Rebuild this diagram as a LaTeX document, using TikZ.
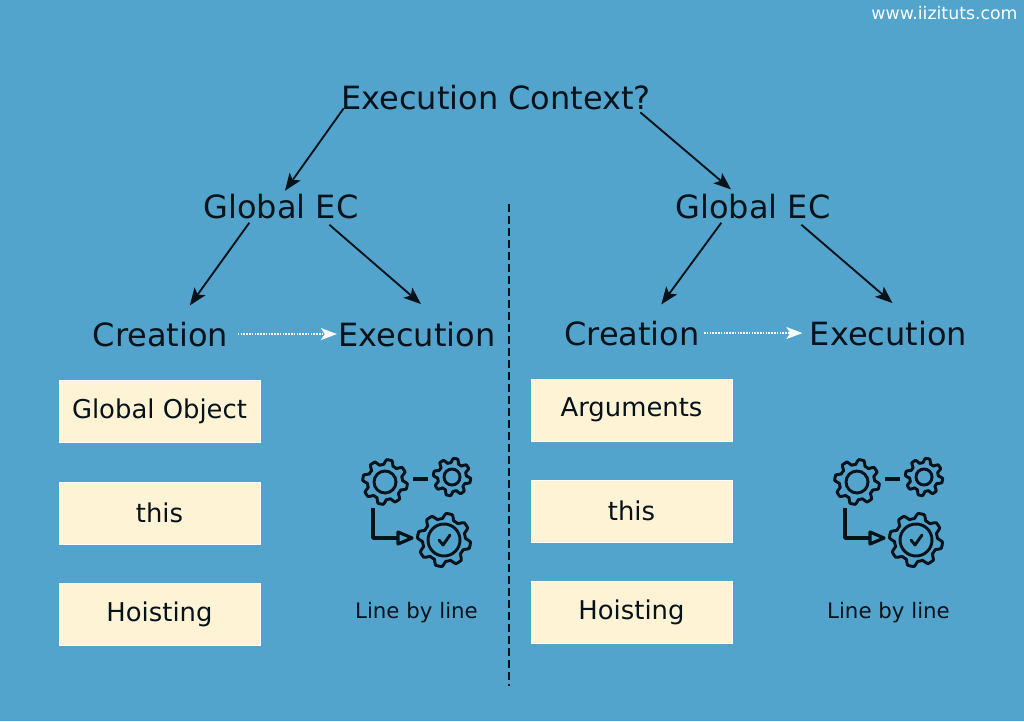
\documentclass[tikz,border=0pt]{standalone}
\usepackage{fontspec}
\setmainfont{DejaVu Sans}
\usetikzlibrary{arrows.meta}
\definecolor{bgblue}{HTML}{53A4CC}
\definecolor{boxcream}{HTML}{FFF3D6}
\definecolor{inkblack}{HTML}{06121A}
\tikzset{
  heading/.style={anchor=base,inner sep=0pt,text=inkblack,font=\fontsize{24}{28}\selectfont},
  itembox/.style={fill=boxcream,draw=white,line width=0.4pt,minimum width=150.5pt,minimum height=46.5pt,inner sep=0pt,text=inkblack,font=\fontsize{19.4}{22}\selectfont},
  small/.style={anchor=base,inner sep=0pt,text=inkblack,font=\fontsize{16}{19}\selectfont},
  link/.style={-{Stealth[length=13pt,width=10pt,inset=3pt]},line width=1.4pt,color=inkblack},
  flow/.style={-{Stealth[length=12pt,width=9pt,inset=3pt]},white,line width=1.4pt,dash pattern=on 1.2pt off 0.9pt},
  pics/gearwheel/.style n args={3}{code={
    \draw[line width=2.2pt,inkblack,line join=round,smooth,samples=161,domain=0:360] plot (\x:{#1+#2*max(-1,min(1,1.8*sin(8*\x)))}) -- cycle;
    \draw[line width=2.2pt,inkblack] (0,0) circle (#3);
  }},
  pics/workflow/.style={code={
    \pic at (385,482) {gearwheel={20}{2.4}{11}};
    \pic at (452,477) {gearwheel={16.5}{2.2}{8}};
    \pic at (444,540) {gearwheel={24}{2.6}{16}};
    \draw[line width=2.4pt,inkblack] (413,479) -- (428,479);
    \draw[line width=2.8pt,inkblack,line join=round] (373,508) -- (373,538) -- (398,538);
    \draw[line width=2.4pt,inkblack,line join=round] (398,532) -- (412,538) -- (398,544) -- cycle;
    \draw[line width=2.2pt,inkblack,line cap=round,line join=round] (439,540) -- (443,545) -- (450,535);
  }}
}
\begin{document}
\begin{tikzpicture}[line cap=butt,x=0.75pt,y=-0.75pt]
\fill[bgblue] (0,0) rectangle (1024,721);
\node[anchor=base,inner sep=0pt,white,font=\fontsize{13}{15}\selectfont] (site) at (944.5,19) {www.iizituts.com};
\node[heading] (ctx) at (496,109) {Execution Context?};
% left side
\node[heading] (globalA) at (281,218) {Global EC};
\node[heading] (createA) at (160.5,346) {Creation};
\node[heading] (execA) at (417,346) {Execution};
\node[itembox] (objA) at (159.5,411) {Global Object};
\node[itembox] (thisA) at (159.5,513) {this};
\node[itembox] (hoistA) at (159.5,614) {Hoisting};
\pic at (0,0) {workflow};
\node[small] (lineA) at (416.5,618) {Line by line};
% right side
\node[heading] (globalB) at (753,218) {Global EC};
\node[heading] (createB) at (632,345) {Creation};
\node[heading] (execB) at (888.5,345) {Execution};
\node[itembox] (argB) at (631.5,410) {Arguments};
\node[itembox] (thisB) at (631.5,511) {this};
\node[itembox] (hoistB) at (631.5,612) {Hoisting};
\pic at (472,0) {workflow};
\node[small] (lineB) at (888.5,618) {Line by line};
% connectors
\draw[link] ([xshift=2pt,yshift=1pt]ctx.south west) -- ([xshift=3pt,yshift=2pt]globalA.north);
\draw[link] ([xshift=-8pt,yshift=-2pt]ctx.south east) -- ([xshift=-16.5pt,yshift=3pt]globalB.north);
\draw[link] ([xshift=34.5pt,yshift=-3pt]globalA.south west) -- ([xshift=22pt,yshift=12pt]createA.north);
\draw[link] ([xshift=-22pt,yshift=-4.5pt]globalA.south east) -- ([xshift=3pt,yshift=13pt]execA.north);
\draw[link] ([xshift=34.5pt,yshift=-3pt]globalB.south west) -- ([xshift=22pt,yshift=12pt]createB.north);
\draw[link] ([xshift=-22pt,yshift=-4.5pt]globalB.south east) -- ([xshift=3pt,yshift=13pt]execB.north);
\draw[flow] ([xshift=7pt]createA.east) -- ([xshift=-1pt]execA.west);
\draw[flow] ([xshift=3pt]createB.east) -- ([xshift=-5.5pt]execB.west);
\coordinate (dashtop) at (509,204);
\coordinate (dashend) at (509,686);
\draw[inkblack,line width=1.6pt,dash pattern=on 6pt off 3pt] (dashtop) -- (dashend);
\end{tikzpicture}
\end{document}
